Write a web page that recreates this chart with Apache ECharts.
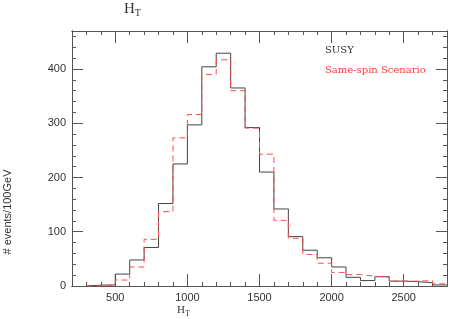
<!DOCTYPE html>
<html>
<head>
<meta charset="utf-8">
<script src="https://cdn.jsdelivr.net/npm/echarts@6/dist/echarts.min.js"></script>
<style>
html,body{margin:0;padding:0;background:#fff;}
#chart{width:449px;height:319px;}
</style>
</head>
<body>
<div id="chart"></div>
<script>
// Histogram bins (left edges, width 100 GeV)
const binStarts = [300, 400, 500, 600, 700, 800, 900, 1000, 1100, 1200, 1300, 1400, 1500,
  1600, 1700, 1800, 1900, 2000, 2100, 2200, 2300, 2400, 2500, 2600, 2700];
const binEnd = 2800;
// SUSY (solid dark line)
const susy = [1.5, 2, 22, 48, 71, 152, 225, 297, 404, 429, 365, 292, 210,
  142, 91, 66, 52, 35, 16, 10, 17, 9, 8, 6, 2];
// Same-spin scenario (red dashed line)
const sameSpin = [0, 2, 11, 35, 86, 137, 273, 316, 390, 417, 360, 291, 243,
  121, 88, 58, 42, 25, 21, 18, 16, 9, 9, 10, 4];

// Axis ticks / labels
const xMajor = [500, 1000, 1500, 2000, 2500];
const xMinor = [300, 400, 500, 600, 700, 800, 900, 1000, 1100, 1200, 1300, 1400, 1500,
  1600, 1700, 1800, 1900, 2000, 2100, 2200, 2300, 2400, 2500, 2600, 2700];
const yMajor = [0, 100, 200, 300, 400];
const yMinor = [20, 40, 60, 80, 100, 120, 140, 160, 180, 200, 220, 240, 260, 280, 300,
  320, 340, 360, 380, 400, 420, 440, 460];
const xRange = [200, 2800];
const yRange = [0, 470];

function histData(vals) {
  const d = [[binStarts[0], 0]];
  for (let i = 0; i < binStarts.length; i++) d.push([binStarts[i], vals[i]]);
  d.push([binEnd, vals[vals.length - 1]]);
  return d;
}

const chart = echarts.init(document.getElementById('chart'), null, {renderer: 'canvas'});
const gridPos = {left: 72, right: 2, top: 31, bottom: 33};
const lineCol = '#555';
const sans = 'Liberation Sans';

function xAx(grid, pos, major) {
  return {
    type: 'value', gridIndex: grid, position: pos, min: xRange[0], max: xRange[1],
    axisLine: {show: true, onZero: false, lineStyle: {color: lineCol, width: 1}},
    axisTick: {show: true, inside: true, length: major ? 12 : 4,
      customValues: major ? xMajor : xMinor, lineStyle: {color: lineCol, width: 1}},
    axisLabel: (major && pos === 'bottom') ? {show: true, customValues: xMajor, margin: 6,
      formatter: function (v) { return String(v); },
      color: '#333', fontFamily: sans, fontSize: 11} : {show: false},
    splitLine: {show: false}
  };
}
function yAx(grid, pos, major) {
  return {
    type: 'value', gridIndex: grid, position: pos, min: yRange[0], max: yRange[1],
    axisLine: {show: true, onZero: false, lineStyle: {color: lineCol, width: 1}},
    axisTick: {show: true, inside: true, length: major ? 11 : 4,
      customValues: major ? yMajor : yMinor, lineStyle: {color: lineCol, width: 1}},
    axisLabel: (major && pos === 'left') ? {show: true, customValues: yMajor, margin: 6,
      formatter: function (v) { return String(v); },
      color: '#333', fontFamily: sans, fontSize: 11} : {show: false},
    splitLine: {show: false}
  };
}

chart.setOption({
  animation: false,
  backgroundColor: '#fff',
  grid: [Object.assign({}, gridPos), Object.assign({}, gridPos)],
  xAxis: [xAx(0, 'bottom', false), xAx(0, 'top', false), xAx(1, 'bottom', true), xAx(1, 'top', true)],
  yAxis: [yAx(0, 'left', false), yAx(0, 'right', false), yAx(1, 'left', true), yAx(1, 'right', true)],
  series: [
    {
      name: 'SUSY', type: 'line', xAxisIndex: 2, yAxisIndex: 2, step: 'end',
      data: histData(susy), showSymbol: false, symbol: 'none',
      lineStyle: {color: '#444', width: 1}, z: 3
    },
    {
      name: 'Same-spin Scenario', type: 'line', xAxisIndex: 2, yAxisIndex: 2, step: 'end',
      data: histData(sameSpin), showSymbol: false, symbol: 'none',
      lineStyle: {color: '#ff4d4d', width: 1, type: [6, 4]}, z: 4
    }
  ],
  graphic: [
    {type: 'text', x: 124, y: 9, style: {text: '{h|H}{t|T}', verticalAlign: 'middle',
      rich: {h: {fontFamily: 'Liberation Serif', fontSize: 15, fill: '#333'},
             t: {fontFamily: 'Liberation Serif', fontSize: 10, fill: '#333', padding: [9, 0, 0, 0]}}}},
    {type: 'text', x: 177, y: 310, style: {text: '{h|H}{t|T}', verticalAlign: 'middle',
      rich: {h: {fontFamily: 'Liberation Serif', fontSize: 11, fill: '#333'},
             t: {fontFamily: 'Liberation Serif', fontSize: 8, fill: '#333', padding: [7, 0, 0, 0]}}}},
    {type: 'text', x: 8, y: 212, rotation: Math.PI / 2, style: {text: '# events/100GeV',
      align: 'center', verticalAlign: 'middle', fontFamily: sans, fontSize: 11, fill: '#333'}},
    {type: 'text', x: 325, y: 50, style: {text: 'SUSY', verticalAlign: 'middle',
      fontFamily: 'DejaVu Serif', fontSize: 10, fill: '#333'}},
    {type: 'text', x: 325, y: 70, style: {text: 'Same-spin Scenario', verticalAlign: 'middle',
      fontFamily: 'DejaVu Serif', fontSize: 10, fill: '#ff3b3b'}}
  ]
});
</script>
</body>
</html>
